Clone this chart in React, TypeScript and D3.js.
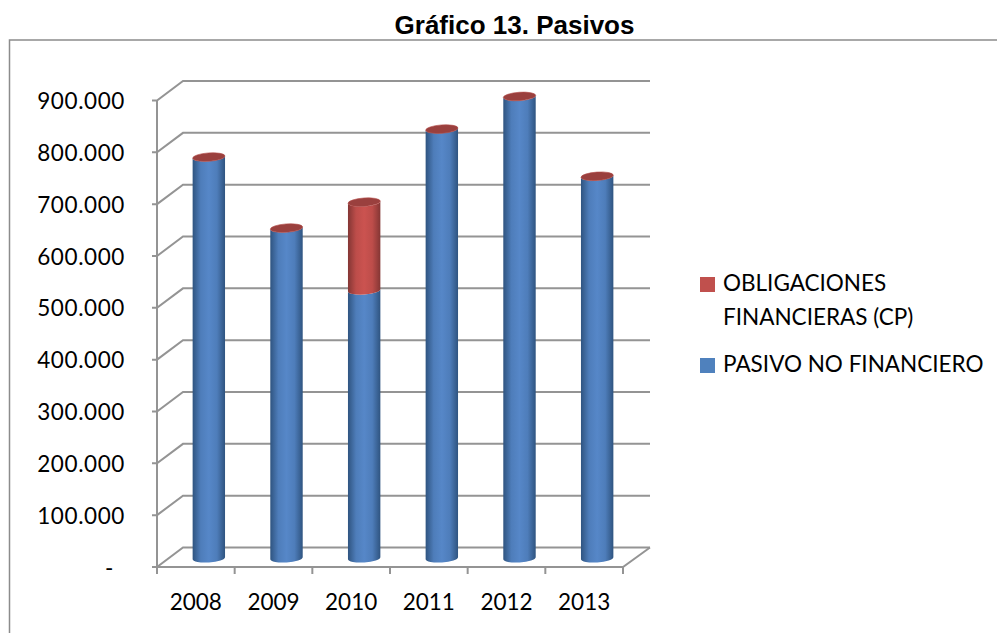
import { useEffect, useRef } from "react";
import * as d3 from "d3";

const years = ["2008", "2009", "2010", "2011", "2012", "2013"];
const pasivoNoFinanciero = [772000, 635000, 515000, 826000, 889000, 735000];
const obligaciones = [0, 0, 170000, 0, 0, 0];
const yTicks = [0, 100000, 200000, 300000, 400000, 500000, 600000, 700000, 800000, 900000];
const yLabels = ["-", "100.000", "200.000", "300.000", "400.000", "500.000", "600.000", "700.000", "800.000", "900.000"];

const FONT = "Lato";
const GRID = "#949494";

export default function App() {
  const ref = useRef<SVGSVGElement>(null);

  useEffect(() => {
    if (!ref.current) return;
    const svg = d3.select(ref.current);
    svg.selectAll("*").remove();

    const dx = 26; // depth of the 3d box
    const dy = -19.5;
    const x = d3.scaleBand().domain(years).range([157, 623]);
    const y = d3.scaleLinear().domain([0, 900000]).range([567, 100.5]);

    // gradients for the cylinders
    const defs = svg.append("defs");
    const grad = (id: string, edge: string, mid: string) => {
      const g = defs.append("linearGradient").attr("id", id);
      g.append("stop").attr("offset", "0%").attr("stop-color", edge);
      g.append("stop").attr("offset", "25%").attr("stop-color", d3.interpolateRgb(edge, mid)(0.8));
      g.append("stop").attr("offset", "50%").attr("stop-color", mid);
      g.append("stop").attr("offset", "75%").attr("stop-color", d3.interpolateRgb(edge, mid)(0.8));
      g.append("stop").attr("offset", "100%").attr("stop-color", edge);
    };
    grad("blue", "#2f5480", "#5687c8");
    grad("red", "#843634", "#cb5350");

    // outer frame
    svg.append("path")
      .attr("d", "M9.5,633V40H997")
      .attr("fill", "none").attr("stroke", "#8c8c8c").attr("stroke-width", 1.5);

    svg.append("text")
      .attr("x", 514.5).attr("y", 34).attr("text-anchor", "middle")
      .attr("font-family", "Liberation Sans").attr("font-weight", "bold").attr("font-size", 26)
      .text("Gráfico 13. Pasivos");

    // walls
    const grid = svg.append("g").attr("fill", "none").attr("stroke", GRID).attr("stroke-width", 2);
    yTicks.forEach((t) => {
      grid.append("path").attr("d", `M152,${y(t)}H157L${157 + dx},${y(t) + dy}H650`);
    });
    grid.append("line").attr("x1", 157).attr("x2", 157).attr("y1", y(900000)).attr("y2", 574);
    grid.append("path").attr("d", `M157,${y(0)}H623L650,${y(0) + dy}`);
    [...years.map((d) => x(d)!), 623].forEach((v) => {
      grid.append("line").attr("x1", v).attr("x2", v).attr("y1", y(0)).attr("y2", 574);
    });

    svg.append("g").selectAll("text").data(yLabels).join("text")
      .attr("x", (_, i) => (i === 0 ? 114 : 125))
      .attr("y", (_, i) => y(yTicks[i]) + 8.5)
      .attr("text-anchor", "end")
      .attr("font-family", FONT).attr("font-size", 22.5).attr("letter-spacing", 0.6)
      .text((d) => d);

    svg.append("g").selectAll("text").data(years).join("text")
      .attr("x", (d) => x(d)! + x.bandwidth() / 2)
      .attr("y", 610)
      .attr("text-anchor", "middle")
      .attr("font-family", FONT).attr("font-size", 22.5)
      .text((d) => d);

    // cylinders
    const rows = years.map((year, i) => ({ year, pasivo: pasivoNoFinanciero[i], oblig: obligaciones[i] }));
    const stacked = d3.stack<any>().keys(["pasivo", "oblig"])(rows);
    const rx = 16.2;
    const ry = 4.2;
    const tilt = 1.1;
    const cyl = (cx: number, yBottom: number, yTop: number) =>
      `M${cx - rx},${yBottom + tilt}A${rx},${ry} -4 0 0 ${cx + rx},${yBottom - tilt}` +
      `L${cx + rx},${yTop - tilt}A${rx},${ry} -4 0 1 ${cx - rx},${yTop + tilt}Z`;
    const centre = (d: string) => x(d)! + x.bandwidth() / 2 + dx / 2;

    stacked.forEach((layer, li) => {
      svg.append("g").selectAll("path").data(layer.filter((d) => d[1] > d[0])).join("path")
        .attr("d", (d) => cyl(centre(d.data.year), y(d[0]) + dy / 2 + (d[0] === 0 ? 1 : 0), y(d[1]) + dy / 2))
        .attr("fill", li === 0 ? "url(#blue)" : "url(#red)");
    });
    // top caps, the zero-height red series sits on every bar
    svg.append("g").selectAll("ellipse").data(rows).join("ellipse")
      .attr("rx", rx).attr("ry", ry)
      .attr("transform", (d) => `translate(${centre(d.year)},${y(d.pasivo + d.oblig) + dy / 2}) rotate(-4)`)
      .attr("fill", "#9a403e").attr("stroke", "#b24a48").attr("stroke-width", 0.6);

    // legend
    const legend = svg.append("g").attr("font-family", FONT).attr("font-size", 22.5);
    legend.append("rect").attr("x", 700).attr("y", 277).attr("width", 15).attr("height", 15).attr("fill", "#c0504d");
    legend.append("rect").attr("x", 700).attr("y", 358).attr("width", 15).attr("height", 15).attr("fill", "#4f81bd");
    legend.append("text").attr("x", 723).attr("y", 291).text("OBLIGACIONES");
    legend.append("text").attr("x", 723).attr("y", 325).text("FINANCIERAS (CP)");
    legend.append("text").attr("x", 723).attr("y", 372).text("PASIVO NO FINANCIERO");
  }, []);

  return (
    <svg
      ref={ref}
      width={997}
      height={633}
      viewBox="0 0 997 633"
      style={{ position: "absolute", left: 0, top: 0, display: "block", background: "#fff" }}
    />
  );
}
